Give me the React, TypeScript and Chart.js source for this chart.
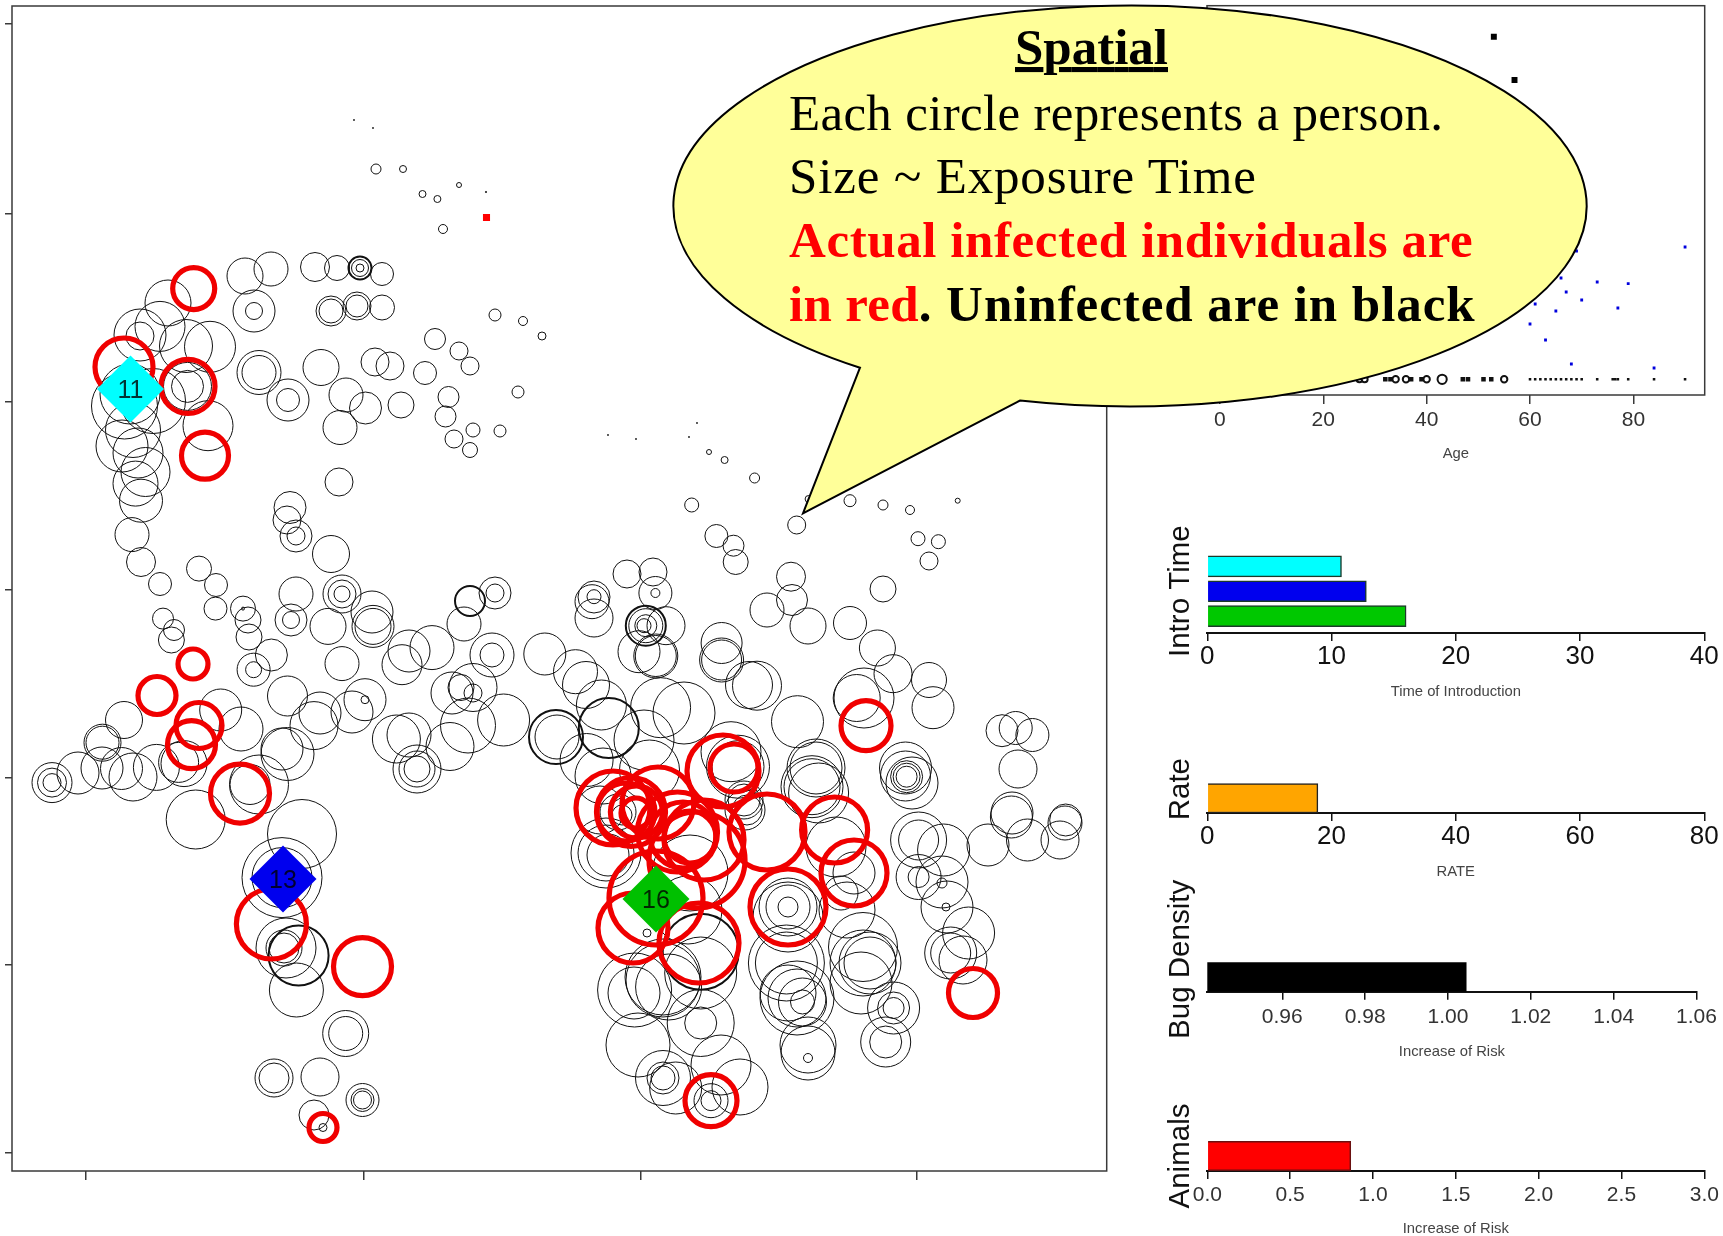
import React, { useEffect, useRef } from "react";
import { Chart, registerables } from "chart.js";
Chart.register(...registerables);

const W = 1723, H = 1236;
const FONT = "'Liberation Sans', Arial, sans-serif";

// ---------- spatial map (map units, [east, south, exposure radius]) ----------
const hubLabels = ["11", "13", "16"];
const hubColors = ["#00ffff", "#0000ee", "#00c000"];
const hubs = [[130.5, 389, 33.5], [283, 879, 33.5], [656, 899, 33.5]];
const redSquare = [[486.5, 217.5, 5]];
const infected = [
  [193.7, 288.6, 21], [124, 367, 29], [188, 386.4, 27], [205, 455.7, 23.5], [193, 664, 15], [157, 695.5, 19],
  [199, 725.5, 23], [191.5, 744.6, 24], [240, 793.6, 29.5], [271.4, 924, 35], [362.5, 966.6, 29], [323, 1127.5, 14],
  [866, 725.7, 25], [734, 768, 24], [723, 771, 36], [613, 808, 37], [631, 812, 34.5], [626, 812, 29], [636.4, 812, 26],
  [658, 803, 36], [636, 813, 15], [677.5, 832, 40], [683, 835, 33], [690, 837, 26], [697, 860, 48], [704, 840, 40],
  [656, 898, 47], [633, 928, 35], [699, 943, 40], [767, 832, 38], [834.6, 830, 33], [854, 873, 33], [788, 907, 38],
  [973, 993, 24.5], [711, 1100.7, 26],
];
const heavy = [[470, 601, 15], [298.6, 955.6, 30], [556, 737, 27], [608.8, 728, 30], [700.7, 951.7, 38], [645.8, 625.7, 20], [360, 268, 11.5]];
const northRing = [
  [354, 120, 0.6], [373, 128, 0.6], [376, 169, 5], [403, 169, 3.5], [422.5, 194, 3.5], [437.4, 199, 3.5], [459, 185, 2.5],
  [486, 192, 0.7], [443, 229, 4.5], [245, 276, 18], [271, 269, 17], [315, 267, 14.5], [337, 268, 12.5], [360, 268, 8.5],
  [360, 268, 4], [382, 274, 11.5], [254, 311, 21], [254, 311, 8.5], [331, 311, 15], [331, 311, 12], [357, 306, 14],
  [357, 306, 11], [382, 307.5, 12.5], [495, 315, 6], [523, 321, 4.5], [542, 336, 4], [435, 339, 10.5], [459, 351, 9],
  [470, 366, 9], [425, 373, 11.5], [518, 392, 6], [259, 372.5, 22], [259, 372.5, 17], [288, 400, 21], [288, 400, 11.5],
  [321, 367.5, 18], [375, 362, 14], [390, 366, 14], [346, 395, 17], [365.5, 408, 16], [401, 405, 13], [340, 427.5, 17],
  [448.5, 397, 10.5], [445.5, 416.5, 10.5], [473, 430, 7], [500, 431, 6], [454, 439, 9], [470, 450, 7.5], [339, 482, 14],
  [290, 507.5, 16], [287, 520, 14], [296, 536, 16], [296, 536, 9], [331, 554, 18.5], [132, 534.6, 17], [141, 562, 14.5],
  [160, 584, 11.5], [199, 568.6, 12.5], [216, 585, 11.5], [215.5, 608.6, 11.5], [296, 594, 17], [342, 594, 19], [342, 594, 14],
  [342, 594, 8], [495, 593, 16], [495, 593, 9], [243, 608.6, 12.5], [243, 608.6, 1.5], [248, 620, 13], [291, 620, 16],
  [291, 620, 8.5], [163, 618.6, 10.5], [174, 630, 10.5], [372, 612, 21], [328, 626.4, 18], [373, 626.4, 21], [373, 626.4, 18],
  [464, 624, 17], [249, 637, 13],
];
const westCluster = [
  [168, 303, 23], [160, 326.4, 25], [140, 335, 26], [140, 336, 14], [186, 346, 26.5], [210, 346.8, 25.5], [124.5, 406, 33],
  [153, 401, 32.5], [130, 394, 30], [187.5, 386.4, 24], [187.5, 386.4, 16], [208, 425.7, 25], [133, 430, 27.5], [122, 446, 26],
  [138, 453, 25], [145.5, 472, 24.5], [135.5, 483.6, 22.5], [141, 500.7, 21.5],
];
const southWest = [
  [124, 720, 18.5], [102.5, 742.7, 18.5], [102.5, 742.7, 16.5], [78, 773, 21], [102, 768, 21], [121.5, 768.5, 21], [133, 777, 24],
  [52, 782.6, 20], [52, 782.6, 14.5], [52, 782.6, 9], [156.4, 767.4, 23], [184, 763.6, 23], [178.6, 762.4, 20], [220.7, 710, 21],
  [241, 729, 22], [271.4, 655, 16], [253.6, 669.7, 16.5], [253.6, 669.7, 8], [287.5, 696, 20], [287.5, 754, 26.5], [282, 749, 21],
  [314, 725.6, 24], [320, 713, 21], [259, 784.5, 29.5], [250, 784.5, 20], [195.7, 819.5, 29.5], [302, 834, 34.5], [282, 877.6, 40],
  [282, 877.6, 30], [284, 948, 15], [284, 948, 18], [286, 948, 30], [296.4, 990, 27], [345.7, 1033.5, 23], [345.7, 1033.5, 17],
  [274, 1078, 19], [274, 1078, 15], [320, 1077, 19], [362.5, 1100, 16.5], [362.5, 1100, 11.5], [362.5, 1100, 9], [314, 1115, 15],
  [323, 1127.5, 4], [365, 699.7, 4], [352, 712, 21], [365, 699.7, 21], [396.4, 739, 24], [409, 735, 22], [417, 769, 24],
  [417, 769, 18], [417, 769, 13], [450, 746.5, 24], [468, 725.5, 27.5], [503.6, 720, 26], [452, 693, 21], [473, 687.5, 24],
  [473, 693, 9], [461, 687.5, 13], [492, 655, 22], [492, 655, 12], [432, 647.6, 22], [402, 664.7, 20], [342, 663.6, 17],
  [409, 651, 21], [171.4, 640, 13],
];
const northEast = [
  [608, 435, 0.6], [636, 439, 0.6], [697, 423, 0.6], [689, 437, 0.6], [709, 452, 2.5], [724.6, 460, 3.5], [754.6, 478, 5],
  [691.7, 505, 7], [808.6, 499, 3.5], [850, 500.7, 6], [883, 505, 5], [910, 510, 4.5], [957.7, 500.7, 2.5], [796.7, 525, 9],
  [716.4, 536, 11.5], [733.5, 545.7, 10.5], [735.7, 562, 12.5], [918, 538.7, 7], [938.4, 541.7, 7], [929, 561, 9],
  [791, 576.7, 14.5], [792, 600, 15.5], [767, 610, 17], [808, 626, 18], [883, 589, 13], [850, 623, 16.5], [877.4, 648, 18],
  [893, 673.7, 19], [929, 680, 17.5], [933, 707.7, 21], [627, 574, 14], [653, 572, 14], [655.4, 593, 16.5], [655.4, 593, 4.5],
  [594, 597, 16], [592, 601.7, 17], [594, 596.7, 7], [594, 618, 19], [645.8, 625.7, 17], [645.8, 625.7, 11], [644, 625.7, 7],
  [666, 625.7, 19], [639, 651.7, 21], [655.8, 656, 22], [655.8, 656, 20.5], [721.6, 643, 20.5], [721.6, 660, 22], [721.6, 660, 20],
  [757, 685.7, 24.5], [749, 685, 23.5], [544.8, 654, 21], [575.5, 671.7, 22], [586, 685, 23.5], [601.4, 705, 25], [660.6, 707.7, 30],
  [684, 713, 31], [797.5, 721.7, 26], [557, 737, 22], [586.6, 760, 26.5], [644, 740, 30], [603, 776, 28], [649.5, 770, 30],
  [731, 751.7, 30], [738, 766.7, 31.5], [738, 766.7, 26], [744, 800, 16], [744, 800, 19], [816, 768, 29], [816, 768, 26],
  [812, 786.7, 31], [812, 786.7, 28], [905.5, 768, 26], [905.5, 776, 25], [906.6, 776.7, 16], [906.6, 776.7, 13.5],
  [906.6, 776.7, 10.5], [912, 783, 26], [1002, 730.7, 16], [1015.7, 728, 16.5], [1032.4, 735, 16.5], [1018, 769, 19],
  [1012, 813, 21], [1065.7, 820, 16], [864, 698, 30], [856.7, 698, 23.5],
];
const southEast = [
  [606, 853, 35], [606, 853, 28], [608, 855, 21], [690, 873, 38], [688, 910, 34], [700.7, 973, 36], [663, 980, 37], [634.6, 990, 37],
  [634, 993, 26], [663, 977, 38], [668.6, 987, 33], [700.7, 1023, 33.5], [700.7, 1023, 16], [638, 1045, 32], [663, 1078, 27.5],
  [663, 1078, 16], [663, 1078, 12], [721, 1065, 30], [675.7, 1088, 26], [740, 1087, 28], [711, 1100.7, 17], [711, 1100.7, 10],
  [647, 933, 4], [788, 907, 10], [788, 907, 22], [788, 907, 29], [788, 917, 35], [786.4, 963, 38], [786.4, 963, 31], [797, 998, 37],
  [797, 998, 29], [802.5, 1002, 24], [802.5, 1002, 12], [808, 1045, 28], [808, 1053, 27], [808, 1058, 4.5], [788, 993, 28],
  [863, 947, 34.5], [863, 963, 33], [870, 963, 31], [870, 963, 26], [893.6, 1008, 26], [893.6, 1008, 16], [893.6, 1008, 10.5],
  [885.7, 1042, 25], [885.7, 1042, 16], [861, 983, 31], [841, 893, 17], [847, 910, 28], [854, 873, 21], [836, 847, 30],
  [918.6, 840, 28], [918.6, 840, 20], [943.6, 850, 26], [918.6, 877, 22.5], [918.6, 877, 10.5], [942, 882, 26], [942, 883, 5],
  [947, 907, 26], [946, 907, 4], [968.6, 933, 26], [950.7, 953, 26], [950.7, 953, 20], [963, 960, 24], [988, 845, 21],
  [1011.4, 817, 21], [1027.5, 840, 21], [1065, 823, 17], [1060, 840, 19], [745, 810, 20], [747, 810, 15], [818.6, 793, 30],
  [600, 810, 24], [618, 812, 18], [622, 815, 10],
];
const mapTicksX = [86, 364, 641, 917];
const mapTicksY = [24, 214, 402, 590, 778, 965, 1153];

// ---------- age panel ----------
const ageTicks = [0, 20, 40, 60, 80];
const topAges = [53, 57];
const topLevels = [36.7, 80];
const blueAges = [90, 69, 66, 73, 79, 67, 70, 61, 65, 77, 60, 63, 68, 84];
const blueLevels = [247, 251, 278, 282, 283.7, 292, 300, 304, 311, 308, 324, 340, 364, 368];
const rowLevel = 379.3;
const dotAges = [60, 61, 62, 63, 64, 65, 66, 67, 68, 69, 70, 73, 76, 76.5, 77, 79, 84, 90];
const filledAges = [32, 33, 37, 39, 47, 48, 51, 52.5];
const ringAges = [27, 28, 34, 36, 40, 43, 55];
const ringSizes = [3, 3, 3.2, 3.2, 3.2, 4.6, 3.2];

// ---------- factor panels ----------
const introValues = [10.8, 12.8, 16];
const introRanks = [1, 2, 3];
const introColors = ["#00ffff", "#0000ee", "#00c800"];
const introTicks = [0, 10, 20, 30, 40];
const rateValue = [17.8];
const rateTicks = [0, 20, 40, 60, 80];
const bugValue = [1.0044];
const bugTicks = [0.96, 0.98, 1.0, 1.02, 1.04, 1.06];
const animalValue = [0.866];
const animalTicks = [0, 0.5, 1, 1.5, 2, 2.5, 3];

const toBubble = (rows: number[][]) => rows.map(([x, y, r]) => ({ x, y, r }));
const setTicks = (vals: number[]) => (s: any) => { s.ticks = vals.map((value) => ({ value })); };

function box(left: number, top: number, right: number, bottom: number, xBox: number, yBox: number) {
  return {
    layout: { autoPadding: false, padding: { left: left - yBox, top, right: W - right, bottom: Math.max(0, H - bottom - xBox) } },
    fitX: (s: any) => { s.height = xBox; },
    fitY: (s: any) => { s.width = yBox; },
  };
}

const framePlugin = {
  id: "frame",
  afterDatasetsDraw(chart: any) {
    const a = chart.chartArea, c = chart.ctx;
    c.save();
    c.strokeStyle = "#3a3a3a";
    c.lineWidth = 1.5;
    c.strokeRect(a.left, a.top, a.right - a.left, a.bottom - a.top);
    c.restore();
  },
};

const hubLabelPlugin = {
  id: "hubLabels",
  afterDatasetsDraw(chart: any) {
    const c = chart.ctx, ds = chart.data.datasets[0], xs = chart.scales.x, ys = chart.scales.y;
    c.save();
    c.font = `25px ${FONT}`;
    c.textAlign = "center";
    c.textBaseline = "middle";
    c.fillStyle = "rgba(0,0,0,0.8)";
    ds.data.forEach((p: any, i: number) => c.fillText(hubLabels[i], xs.getPixelForValue(p.x), ys.getPixelForValue(p.y) + 2));
    c.restore();
  },
};

function barPanel(canvas: HTMLCanvasElement, o: any) {
  const b = box(o.left, o.top, o.right, o.bottom, o.xBox, 44);
  return new Chart(canvas, {
    type: "bar",
    data: {
      datasets: [{
        data: o.values.map((v: number, i: number) => ({ x: v, y: o.ranks[i] })),
        backgroundColor: o.colors,
        borderColor: o.border,
        borderWidth: o.borderWidth,
        barThickness: o.thickness,
        base: o.min,
      }],
    },
    options: {
      indexAxis: "y",
      animation: false,
      responsive: false,
      devicePixelRatio: 1,
      layout: b.layout,
      events: [],
      plugins: { legend: { display: false }, tooltip: { enabled: false } },
      scales: {
        x: {
          type: "linear", min: o.min, max: o.max,
          afterBuildTicks: setTicks(o.ticks), afterFit: b.fitX,
          border: { display: true, color: "#111", width: 2 },
          grid: { drawOnChartArea: false, drawTicks: true, tickLength: o.tickLength, color: "#111", lineWidth: 1.5 },
          ticks: {
            autoSkip: false, maxRotation: 0, padding: o.tickPad, color: o.tickColor,
            font: { family: FONT, size: o.tickSize },
            callback: o.format,
          },
          title: { display: true, text: o.xTitle, padding: 0, color: "#444", font: { family: FONT, size: 14.8, lineHeight: 1 } },
        },
        y: {
          type: "linear", reverse: true, offset: false, min: o.yMin, max: o.yMax, afterFit: b.fitY,
          border: { display: false }, grid: { display: false, offset: false }, ticks: { display: false },
          title: { display: true, text: o.yTitle, padding: 0, color: "#111", font: { family: FONT, size: 29.5 } },
        },
      },
    },
  } as any);
}

function mapChart(canvas: HTMLCanvasElement) {
  const b = box(12, 6, 1106.7, 1171, 9, 7);
  const thin = [...northRing, ...westCluster, ...southWest, ...northEast, ...southEast];
  const axis = (ticks: number[], min: number, max: number, fit: any, len: number, reverse: boolean) => ({
    type: "linear", min, max, reverse, afterBuildTicks: setTicks(ticks), afterFit: fit,
    border: { display: false },
    grid: { drawOnChartArea: false, drawTicks: true, tickLength: len, color: "#3a3a3a", lineWidth: 1.5 },
    ticks: { display: false, autoSkip: false },
  });
  return new Chart(canvas, {
    type: "bubble",
    data: {
      datasets: [
        { data: toBubble(hubs), backgroundColor: hubColors, borderColor: hubColors, borderWidth: 0, pointStyle: "rectRot" },
        { data: toBubble(redSquare), backgroundColor: "#ff0000", borderColor: "#ff0000", borderWidth: 0, pointStyle: "rect" },
        { data: toBubble(infected), backgroundColor: "transparent", borderColor: "#f00000", borderWidth: 5.2 },
        { data: toBubble(heavy), backgroundColor: "transparent", borderColor: "#111", borderWidth: 2 },
        { data: toBubble(thin), backgroundColor: "transparent", borderColor: "#111", borderWidth: 1 },
      ],
    },
    options: {
      animation: false, responsive: false, devicePixelRatio: 1, layout: b.layout, events: [],
      plugins: { legend: { display: false }, tooltip: { enabled: false } },
      scales: {
        x: axis(mapTicksX, 12, 1106.7, b.fitX, 9, false),
        y: axis(mapTicksY, 6, 1171, b.fitY, 7, true),
      },
    },
    plugins: [framePlugin, hubLabelPlugin],
  } as any);
}

function ageChart(canvas: HTMLCanvasElement) {
  const b = box(1207, 5.7, 1704.7, 395, 66.4, 0);
  const row = (ages: number[]) => ages.map((x) => ({ x, y: rowLevel }));
  return new Chart(canvas, {
    type: "scatter",
    data: {
      datasets: [
        { data: topAges.map((x, i) => ({ x, y: topLevels[i] })), pointStyle: "rect", pointRadius: 4.2, backgroundColor: "#000", borderWidth: 0 },
        { data: blueAges.map((x, i) => ({ x, y: blueLevels[i] })), pointStyle: "rect", pointRadius: 2, backgroundColor: "#0000dd", borderWidth: 0 },
        { data: row(dotAges), pointStyle: "rect", pointRadius: 1.8, backgroundColor: "#111", borderWidth: 0 },
        { data: row(filledAges), pointStyle: "rect", pointRadius: 3.2, backgroundColor: "#111", borderWidth: 0 },
        { data: row(ringAges), pointStyle: "circle", pointRadius: ringSizes, backgroundColor: "#fff", borderColor: "#111", borderWidth: 2 },
      ],
    },
    options: {
      animation: false, responsive: false, devicePixelRatio: 1, layout: b.layout, events: [],
      plugins: { legend: { display: false }, tooltip: { enabled: false } },
      scales: {
        x: {
          type: "linear", min: -2.5, max: 93.8, afterBuildTicks: setTicks(ageTicks), afterFit: b.fitX,
          border: { display: false },
          grid: { drawOnChartArea: false, drawTicks: true, tickLength: 9, color: "#3a3a3a", lineWidth: 1.5 },
          ticks: { autoSkip: false, maxRotation: 0, padding: 4, color: "#333", font: { family: FONT, size: 21 } },
          title: { display: true, text: "Age", padding: 0, color: "#444", font: { family: FONT, size: 14.8, lineHeight: 1 } },
        },
        y: { type: "linear", reverse: true, min: 5.7, max: 395, display: false },
      },
    },
    plugins: [framePlugin],
  } as any);
}

export default function App() {
  const refs = useRef<(HTMLCanvasElement | null)[]>([]);
  useEffect(() => {
    const c = refs.current as HTMLCanvasElement[];
    const common = { left: 1207.3, right: 1704.3 };
    const charts = [
      mapChart(c[0]),
      ageChart(c[1]),
      barPanel(c[2], {
        ...common, top: 549, bottom: 633.3, xBox: 66.4, values: introValues, ranks: introRanks, colors: introColors,
        border: "#1c3a2a", borderWidth: 1.5, thickness: 21, min: 0, max: 40, ticks: introTicks, tickLength: 7.7, tickPad: 0,
        tickColor: "#111", tickSize: 26, xTitle: "Time of Introduction", yTitle: "Intro Time", yMin: 0.3, yMax: 3.69,
      }),
      barPanel(c[3], {
        ...common, top: 765, bottom: 813.3, xBox: 65.6, values: rateValue, ranks: [1], colors: ["#ffa500"],
        border: "#222", borderWidth: 1.5, thickness: 29.5, min: 0, max: 80, ticks: rateTicks, tickLength: 7.7, tickPad: 0,
        tickColor: "#111", tickSize: 26, xTitle: "RATE", yTitle: "Rate", yMin: -0.122, yMax: 1.51,
      }),
      barPanel(c[4], {
        left: 1207.3, right: 1696.5, top: 927, bottom: 991.7, xBox: 67.4, values: bugValue, ranks: [1], colors: ["#000"],
        border: "#000", borderWidth: 0, thickness: 29, min: 0.9419, max: 1.06, ticks: bugTicks, tickLength: 8, tickPad: 5,
        tickColor: "#333", tickSize: 21, xTitle: "Increase of Risk", yTitle: "Bug Density", yMin: -0.731, yMax: 1.5,
        format: (v: number) => v.toFixed(2),
      }),
      barPanel(c[5], {
        ...common, top: 1141, bottom: 1171, xBox: 65, values: animalValue, ranks: [1], colors: ["#ff0000"],
        border: "#6a1010", borderWidth: 1.5, thickness: 29.5, min: 0, max: 3, ticks: animalTicks, tickLength: 8, tickPad: 4,
        tickColor: "#333", tickSize: 21, xTitle: "Increase of Risk", yTitle: "Animals", yMin: 0.5, yMax: 1.5,
        format: (v: number) => v.toFixed(1),
      }),
    ];
    return () => charts.forEach((ch) => ch.destroy());
  }, []);

  const serif = "'Liberation Serif', 'Times New Roman', serif";
  return (
    <div style={{ position: "absolute", left: 0, top: 0, width: W, height: H, overflow: "hidden", background: "#fff" }}>
      {[0, 1, 2, 3, 4, 5].map((i) => (
        <canvas key={i} ref={(el) => { refs.current[i] = el; }} width={W} height={H}
          style={{ position: "absolute", left: 0, top: 0, width: W, height: H }} />
      ))}
      <svg width={W} height={H} style={{ position: "absolute", left: 0, top: 0 }} fontFamily={serif} fontSize={51}>
        <path d="M 1020 400.6 A 456.6 200.5 0 1 0 860 367.7 L 803 513.3 Z" fill="#ffff99" stroke="#000" strokeWidth={2} />
        <text x={1015} y={64} fontWeight="bold" textLength={153} lengthAdjust="spacing" textDecoration="underline">Spatial</text>
        <text x={789} y={129.5} textLength={654} lengthAdjust="spacing">Each circle represents a person.</text>
        <text x={789} y={193} textLength={467} lengthAdjust="spacing">Size ~ Exposure Time</text>
        <text x={789} y={257} fontWeight="bold" fill="#ff0000" textLength={683.6} lengthAdjust="spacing">Actual infected individuals are</text>
        <text x={789} y={321} fontWeight="bold" fill="#ff0000" textLength={129.7} lengthAdjust="spacing">in red</text>
        <text x={918.7} y={321} fontWeight="bold" textLength={556} lengthAdjust="spacing">. Uninfected are in black</text>
      </svg>
    </div>
  );
}
